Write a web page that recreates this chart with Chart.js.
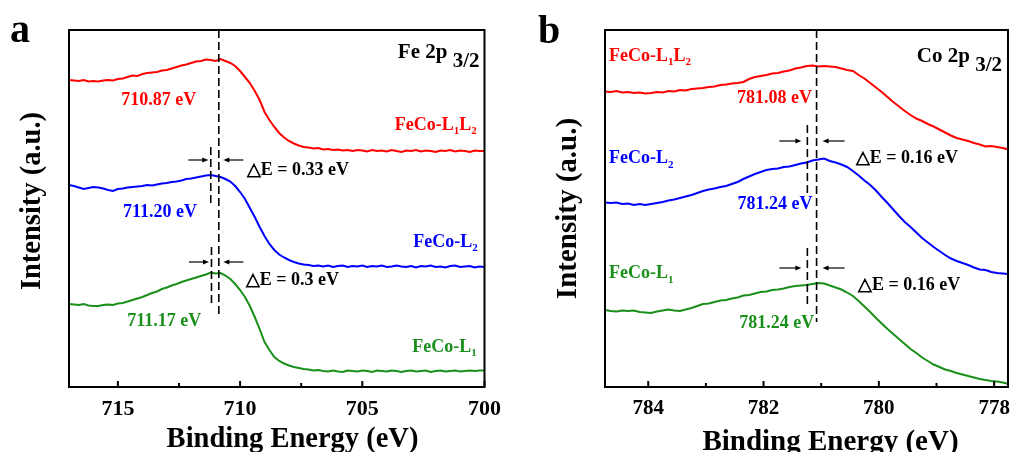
<!DOCTYPE html>
<html>
<head>
<meta charset="utf-8">
<script src="https://cdn.jsdelivr.net/npm/chart.js@4.4.1/dist/chart.umd.min.js"></script>
<style>
  html, body { margin: 0; padding: 0; background: #fff; width: 1019px; height: 452px; overflow: hidden; }
  canvas { position: absolute; top: 0; }
  #fe { left: 0; }
  #co { left: 510px; }
</style>
</head>
<body>
<canvas id="fe" width="510" height="452"></canvas>
<canvas id="co" width="509" height="452"></canvas>
<script>
// ---- Fe 2p3/2 region (binding energy, eV) ----
const energyFe = [
  717.0, 716.8, 716.6, 716.4, 716.2, 716.0, 715.8, 715.6, 715.4, 715.2,
  715.0, 714.8, 714.6, 714.4, 714.2, 714.0, 713.8, 713.6, 713.4, 713.2,
  713.0, 712.8, 712.6, 712.4, 712.2, 712.0, 711.8, 711.6, 711.4, 711.2,
  711.0, 710.8, 710.6, 710.4, 710.2, 710.0, 709.8, 709.6, 709.4, 709.2,
  709.0, 708.8, 708.6, 708.4, 708.2, 708.0, 707.8, 707.6, 707.4, 707.2,
  707.0, 706.8, 706.6, 706.4, 706.2, 706.0, 705.8, 705.6, 705.4, 705.2,
  705.0, 704.8, 704.6, 704.4, 704.2, 704.0, 703.8, 703.6, 703.4, 703.2,
  703.0, 702.8, 702.6, 702.4, 702.2, 702.0, 701.8, 701.6, 701.4, 701.2,
  701.0, 700.8, 700.6, 700.4, 700.2, 700.0
];
const feL1L2 = [
  307, 306.5, 306, 307, 305.5, 306, 305.5, 306.5, 307, 306.5,
  308, 308.5, 310, 311.5, 311, 313, 314, 314.5, 315, 316.5,
  317, 318.5, 320, 321.5, 322.5, 324, 325.5, 326, 327.5, 327,
  326, 328, 326, 324, 321, 316, 310, 304, 296, 287,
  275, 267, 260, 254, 249.5, 246, 243.5, 241.5, 240, 239.5,
  238.5, 239, 237.5, 238, 237, 237.5, 236.5, 237, 236, 237,
  236.5, 235.5, 237, 236, 236.5, 235.5, 237, 236, 235, 236.5,
  236, 237, 235.5, 236.5, 236, 235, 236.5, 236, 237, 235.5,
  236.5, 236, 235, 236.5, 236, 236
];
const feL2 = [
  202, 201, 199.5, 198, 199, 200, 199.5, 198.5, 197, 196,
  198, 198.5, 199.5, 200, 200.5, 201, 202, 201.5, 202.5, 203.5,
  204, 205, 205.5, 206.5, 208, 208.5, 209.5, 210.5, 211.5, 212,
  211, 210, 208, 205.5, 201, 195, 188, 179, 170, 160,
  151, 143, 137, 132.5, 129.5, 127, 125, 123.5, 122.5, 122,
  121, 121.5, 120.5, 121.5, 120, 121, 121.5, 120, 121, 120.5,
  121.5, 120, 121, 120.5, 121.5, 120, 120.5, 121.5, 120.5, 120,
  121, 119.5, 121, 120.5, 121.5, 120, 120.5, 119.5, 121, 121.5,
  120, 120.5, 121, 119.5, 120.5, 120
];
const feL1 = [
  83, 82.5, 82, 83, 81.5, 81, 81, 82, 82.5, 82,
  83.5, 84, 85.5, 87, 88.5, 90, 92, 94, 95.5, 98,
  99.5, 101.5, 103, 105, 106.5, 108, 109.5, 111, 112.5, 114.5,
  113.5, 114, 111.5, 108, 103, 97, 90, 81, 70, 58,
  45, 37, 30, 26, 23.5, 21.5, 20, 19, 18, 17.5,
  16.5, 17, 16, 15.5, 16.5, 15.5, 15, 16.5, 16, 15.5,
  16.5, 16, 15, 16.5, 16, 15.5, 16.5, 16, 15, 16,
  16.5, 15.5, 16, 16.5, 15, 16, 16.5, 15.5, 16, 16.5,
  15.5, 16, 16.5, 16, 16.5, 16.5
];
const ticksFe = [715, 710, 705, 700];
const minorFe = [712.5, 707.5];
const peaksFe = [710.87, 711.20, 711.17];   // L1L2, L2, L1

// ---- Co 2p3/2 region (binding energy, eV) ----
const energyCo = [
  784.75, 784.65, 784.55, 784.45, 784.35, 784.25, 784.15, 784.05, 783.95, 783.85,
  783.75, 783.65, 783.55, 783.45, 783.35, 783.25, 783.15, 783.05, 782.95, 782.85,
  782.75, 782.65, 782.55, 782.45, 782.35, 782.25, 782.15, 782.05, 781.95, 781.85,
  781.75, 781.65, 781.55, 781.45, 781.35, 781.25, 781.15, 781.05, 780.95, 780.85,
  780.75, 780.65, 780.55, 780.45, 780.35, 780.25, 780.15, 780.05, 779.95, 779.85,
  779.75, 779.65, 779.55, 779.45, 779.35, 779.25, 779.15, 779.05, 778.95, 778.85,
  778.75, 778.65, 778.55, 778.45, 778.35, 778.25, 778.15, 778.05, 777.95, 777.85,
  777.75
];
const coL1L2 = [
  295.5, 295, 296, 294.5, 295, 294, 294.5, 293.5, 294, 295,
  294.5, 296, 295.5, 297, 296.5, 298, 298.5, 299, 300, 300.5,
  302, 302.5, 303.5, 304, 305, 308, 310, 311, 312, 313.5,
  314, 315.5, 316.5, 318.5, 319.5, 321, 321.5, 320.5, 321, 320.5,
  320, 318.5, 317, 316, 312, 308.5, 304, 299.5, 295, 290,
  285, 280.5, 276, 272, 268.5, 266, 263, 260.5, 257.5, 254.5,
  251.5, 249, 247.5, 246, 244, 242.5, 240.5, 241, 240, 239,
  237.5
];
const coL2 = [
  184.5, 184, 184.5, 183, 183.5, 182, 183, 182, 183, 184,
  185, 186.5, 187.5, 189, 190.5, 192, 194, 196, 197.5, 198.5,
  200, 201, 203, 205, 208, 210.5, 213, 215, 217, 218,
  218.5, 220, 220.5, 222, 223.5, 224.5, 226.5, 227.5, 228.5, 226,
  224.5, 222.5, 220, 216, 211.5, 206.5, 202, 196.5, 190, 184,
  177.5, 171, 165, 160, 154.5, 149, 144.5, 140, 136, 132,
  128.5, 126, 124, 122, 119.5, 117.5, 117, 115, 114, 113.5,
  113
];
const coL1 = [
  77, 76, 75.5, 76.5, 76, 76.5, 75, 74.5, 74, 75.5,
  76.5, 77.5, 76.5, 76, 77.5, 79, 81, 83, 83.5, 85,
  86.5, 87, 88.5, 89.5, 91.5, 92, 93.5, 95, 95.5, 97,
  97.5, 98.5, 100, 101, 101.5, 102, 103, 104, 103.5, 101.5,
  99.5, 97.5, 94.5, 91, 86, 80.5, 75, 69, 63.5, 58,
  53, 48, 43, 38, 34, 29.5, 26, 22.5, 20, 17.5,
  16, 14, 12.5, 11, 9.5, 8, 7, 6, 5.5, 4.5,
  3
];
const ticksCo = [784, 782, 780, 778];
const minorCo = [783, 781, 779];
const peaksCo = [781.08, 781.24, 781.24];   // L1L2, L2, L1

// ---- shared styling ----
const SERIF = "'Liberation Serif','Times New Roman',serif";
const RED = '#ff0000', BLUE = '#0000ff', GREEN = '#1a8f1a', BLACK = '#000000';
const bold = size => `bold ${size}px ${SERIF}`;

const sampleName = (sub1, sub2) => sub2
  ? [{ t: 'FeCo-L' }, { t: sub1, sub: true }, { t: 'L' }, { t: sub2, sub: true }]
  : [{ t: 'FeCo-L' }, { t: sub1, sub: true }];
const eVText = v => `${v.toFixed(2)} eV`;
const dEText = (a, b) => `\u25B3E = ${+(a - b).toFixed(2)} eV`;

// text with optional subscripts / lowered parts
function drawRich(ctx, parts, x, y, size, align, color) {
  const subSize = Math.round(size * 0.62);
  let w = 0;
  for (const p of parts) { ctx.font = bold(p.sub ? subSize : size); w += ctx.measureText(p.t).width; }
  let cx = align === 'right' ? x - w : align === 'center' ? x - w / 2 : x;
  ctx.fillStyle = color;
  ctx.textAlign = 'left';
  ctx.textBaseline = 'alphabetic';
  for (const p of parts) {
    ctx.font = bold(p.sub ? subSize : size);
    const dy = p.sub ? size * 0.24 : (p.dy || 0);
    ctx.fillText(p.t, cx, y + dy);
    cx += ctx.measureText(p.t).width;
  }
}

function arrow(ctx, x0, x1, y) {
  const dir = Math.sign(x1 - x0);
  ctx.beginPath(); ctx.moveTo(x0, y); ctx.lineTo(x1 - dir * 4, y); ctx.stroke();
  ctx.beginPath();
  ctx.moveTo(x1, y); ctx.lineTo(x1 - dir * 6, y - 2.6); ctx.lineTo(x1 - dir * 6, y + 2.6);
  ctx.closePath(); ctx.fill();
}

const decor = {
  id: 'decor',
  afterDraw(chart, args, o) {
    const { ctx, chartArea: a } = chart;
    const xs = chart.scales.x, ys = chart.scales.y;
    ctx.save();

    // dashed peak markers
    ctx.strokeStyle = BLACK; ctx.lineWidth = 1.6; ctx.setLineDash([8, 4]);
    for (const d of o.dashes) {
      const px = xs.getPixelForValue(d.x);
      const y0 = d.from === 'top' ? a.top : ys.getPixelForValue(d.from);
      ctx.beginPath(); ctx.moveTo(px, y0); ctx.lineTo(px, ys.getPixelForValue(d.to)); ctx.stroke();
    }
    ctx.setLineDash([]);

    // shift arrows pointing at the two markers
    ctx.lineWidth = 1.2; ctx.fillStyle = BLACK;
    for (const r of o.arrows) {
      const py = ys.getPixelForValue(r.y);
      const pl = xs.getPixelForValue(r.left), pr = xs.getPixelForValue(r.right);
      arrow(ctx, pl - o.gapL - o.len, pl - o.gapL, py);
      arrow(ctx, pr + o.gapR + o.len, pr + o.gapR, py);
    }

    // value and sample labels
    for (const l of o.labels) {
      drawRich(ctx, l.parts, xs.getPixelForValue(l.x), ys.getPixelForValue(l.y), l.size || 18, l.align, l.color);
    }

    // core level tag in the top-right corner
    drawRich(ctx, o.core.parts, a.right - o.core.inset, a.top + o.core.base, 21, 'right', BLACK);

    // frame
    ctx.strokeStyle = BLACK; ctx.lineWidth = 2;
    ctx.strokeRect(a.left, a.top, a.right - a.left, a.bottom - a.top);

    // inward tick marks
    for (const t of xs.ticks) {
      const px = xs.getPixelForValue(t.value);
      ctx.beginPath(); ctx.moveTo(px, a.bottom); ctx.lineTo(px, a.bottom - 6); ctx.stroke();
    }
    for (const v of o.minor) {
      const px = xs.getPixelForValue(v);
      ctx.beginPath(); ctx.moveTo(px, a.bottom); ctx.lineTo(px, a.bottom - 4); ctx.stroke();
    }

    // axis titles and panel letter
    ctx.fillStyle = BLACK;
    ctx.font = bold(o.titleSize); ctx.textAlign = 'center'; ctx.textBaseline = 'alphabetic';
    ctx.fillText('Binding Energy (eV)', o.xTitle[0], o.xTitle[1]);
    ctx.save();
    ctx.translate(o.yTitle[0], o.yTitle[1]); ctx.rotate(-Math.PI / 2);
    ctx.font = bold(o.yTitleSize); ctx.textBaseline = 'middle';
    ctx.fillText('Intensity (a.u.)', 0, 0);
    ctx.restore();
    ctx.font = bold(40); ctx.textAlign = 'left'; ctx.textBaseline = 'alphabetic';
    ctx.fillText(o.letter[0], o.letter[1], o.letter[2]);

    ctx.restore();
  }
};

function line(label, energy, values, color) {
  return {
    label, data: energy.map((e, i) => ({ x: e, y: values[i] })),
    borderColor: color, borderWidth: 2, pointRadius: 0, tension: 0, fill: false
  };
}

function makeChart(id, cfg) {
  return new Chart(document.getElementById(id), {
    type: 'line',
    data: { datasets: cfg.datasets },
    options: {
      responsive: false, animation: false, devicePixelRatio: 1,
      layout: { padding: { top: 30, right: cfg.padRight, left: 0, bottom: 0 } },
      plugins: { legend: { display: false }, tooltip: { enabled: false }, decor: cfg.decor },
      scales: {
        x: {
          type: 'linear', min: cfg.min, max: cfg.max, reverse: true,
          afterBuildTicks: s => { s.ticks = cfg.ticks.map(v => ({ value: v })); },
          afterFit: s => { s.height = 65; },
          grid: { display: false, drawTicks: false }, border: { display: false },
          ticks: { color: BLACK, font: { family: SERIF, size: cfg.tickSize, weight: 'bold' },
                   padding: 9, autoSkip: false, maxRotation: 0 }
        },
        y: {
          min: 0, max: 357,
          afterFit: s => { s.width = cfg.yWidth; },
          grid: { display: false, drawTicks: false }, border: { display: false },
          ticks: { display: false }
        }
      }
    },
    plugins: [decor]
  });
}

makeChart('fe', {
  min: 700, max: 717, ticks: ticksFe, tickSize: 22, yWidth: 69, padRight: 20,
  datasets: [
    line('FeCo-L1L2', energyFe, feL1L2, RED),
    line('FeCo-L2', energyFe, feL2, BLUE),
    line('FeCo-L1', energyFe, feL1, GREEN)
  ],
  decor: {
    minor: minorFe,
    dashes: [
      { x: peaksFe[0], from: 'top', to: 73 },
      { x: peaksFe[1], from: 240, to: 184 },
      { x: peaksFe[2], from: 140, to: 84 }
    ],
    arrows: [
      { left: peaksFe[1], right: peaksFe[0], y: 227 },
      { left: peaksFe[2], right: peaksFe[0], y: 125 }
    ],
    gapL: 2.5, gapR: 4.5, len: 20,
    labels: [
      { parts: [{ t: eVText(peaksFe[0]) }], x: 713.33, y: 282.5, align: 'center', color: RED },
      { parts: [{ t: eVText(peaksFe[1]) }], x: 713.28, y: 170.3, align: 'center', color: BLUE },
      { parts: [{ t: eVText(peaksFe[2]) }], x: 713.10, y: 61, align: 'center', color: GREEN },
      { parts: [{ t: dEText(peaksFe[1], peaksFe[0]) }], x: 709.73, y: 212, align: 'left', color: BLACK },
      { parts: [{ t: dEText(peaksFe[2], peaksFe[0]) }], x: 709.77, y: 102, align: 'left', color: BLACK },
      { parts: sampleName('1', '2'), x: 700.32, y: 257, align: 'right', color: RED },
      { parts: sampleName('2'), x: 700.28, y: 140.3, align: 'right', color: BLUE },
      { parts: sampleName('1'), x: 700.32, y: 35.3, align: 'right', color: GREEN }
    ],
    core: { parts: [{ t: 'Fe 2p ' }, { t: '3/2', dy: 9 }], inset: 5, base: 28.3 },
    titleSize: 28.5, xTitle: [292.5, 447], yTitleSize: 28.5, yTitle: [33, 201],
    letter: ['a', 10, 42]
  }
});

makeChart('co', {
  min: 777.76, max: 784.75, ticks: ticksCo, tickSize: 21, yWidth: 95, padRight: 3,
  datasets: [
    line('FeCo-L1L2', energyCo, coL1L2, RED),
    line('FeCo-L2', energyCo, coL2, BLUE),
    line('FeCo-L1', energyCo, coL1, GREEN)
  ],
  decor: {
    minor: minorCo,
    dashes: [
      { x: peaksCo[0], from: 'top', to: 65 },
      { x: peaksCo[1], from: 262, to: 194 },
      { x: peaksCo[2], from: 139, to: 82 }
    ],
    arrows: [
      { left: peaksCo[1], right: peaksCo[0], y: 246 },
      { left: peaksCo[2], right: peaksCo[0], y: 119 }
    ],
    gapL: 6, gapR: 6, len: 22,
    labels: [
      { parts: sampleName('1', '2'), x: 784.68, y: 326, align: 'left', color: RED },
      { parts: [{ t: eVText(peaksCo[0]) }], x: 781.81, y: 283.7, align: 'center', color: RED },
      { parts: sampleName('2'), x: 784.68, y: 223.7, align: 'left', color: BLUE },
      { parts: [{ t: eVText(peaksCo[1]) }], x: 781.80, y: 178, align: 'center', color: BLUE },
      { parts: sampleName('1'), x: 784.68, y: 108.7, align: 'left', color: GREEN },
      { parts: [{ t: eVText(peaksCo[2]) }], x: 781.77, y: 58.7, align: 'center', color: GREEN },
      { parts: [{ t: dEText(peaksCo[1], peaksCo[0]) }], x: 780.40, y: 223.7, align: 'left', color: BLACK },
      { parts: [{ t: dEText(peaksCo[2], peaksCo[0]) }], x: 780.36, y: 97, align: 'left', color: BLACK }
    ],
    core: { parts: [{ t: 'Co 2p ' }, { t: '3/2', dy: 9.5 }], inset: 6, base: 31.7 },
    titleSize: 29, xTitle: [320.5, 450], yTitleSize: 29, yTitle: [58.3, 208.5],
    letter: ['b', 28, 43]
  }
});
</script>
</body>
</html>
